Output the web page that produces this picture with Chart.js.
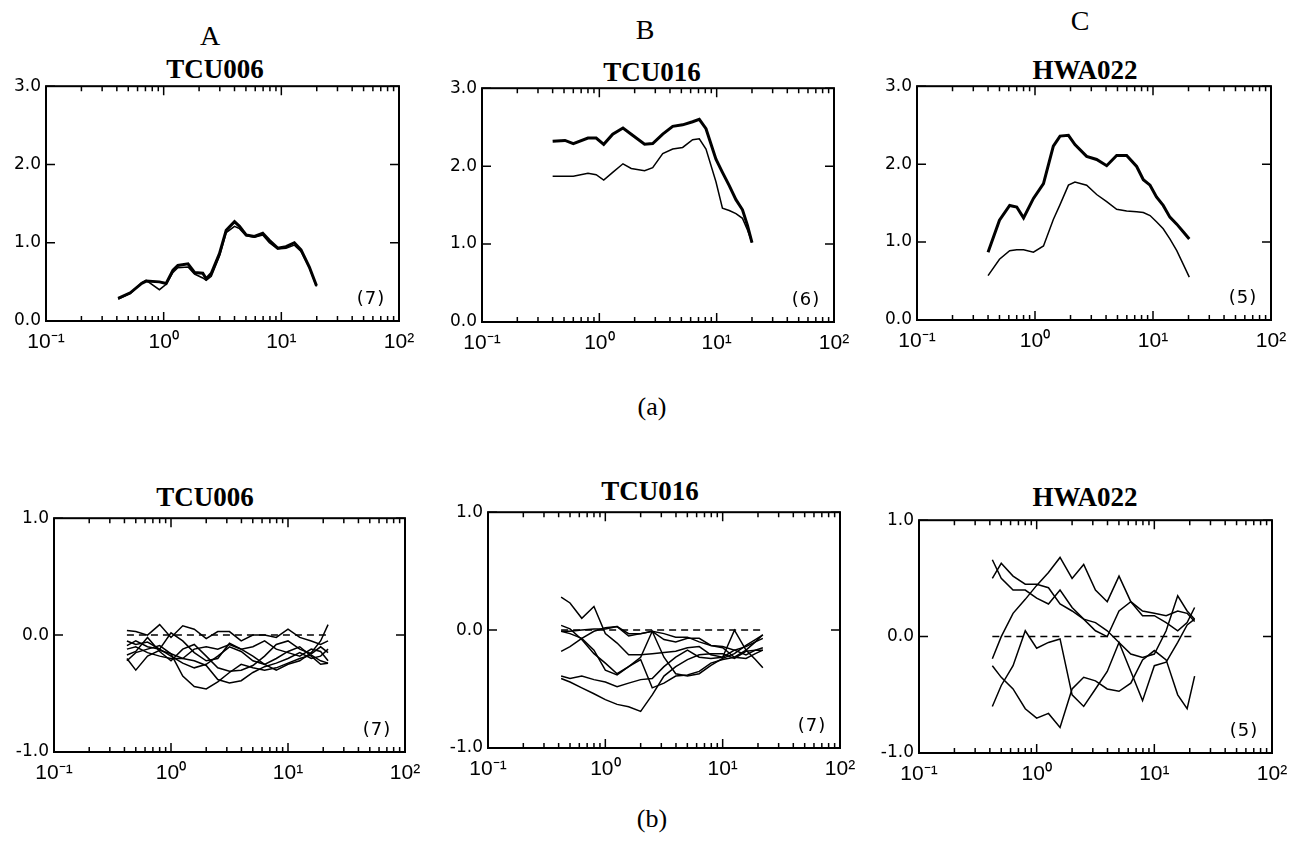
<!DOCTYPE html>
<html>
<head>
<meta charset="utf-8">
<script src="https://cdn.jsdelivr.net/npm/chart.js@4.4.1/dist/chart.umd.min.js"></script>
<style>
  body { margin: 0; background: #fff; width: 1301px; height: 843px; position: relative; overflow: hidden; }
  canvas { position: absolute; }
  .txt { position: absolute; transform: translate(-50%, -50%); font-family: "Liberation Serif", "Times New Roman", serif; color: #000; white-space: nowrap; line-height: 1; }
  .letra { font-size: 28px; }
  .estacao { font-size: 27px; font-weight: bold; }
  .parte { font-size: 26px; }
</style>
</head>
<body>
<div class="txt letra" style="left:210px;top:36px">A</div>
<div class="txt letra" style="left:645px;top:30px">B</div>
<div class="txt letra" style="left:1080px;top:21px">C</div>
<div class="txt estacao" style="left:215px;top:69px">TCU006</div>
<div class="txt estacao" style="left:652px;top:72px">TCU016</div>
<div class="txt estacao" style="left:1085px;top:70px">HWA022</div>
<div class="txt parte" style="left:652px;top:407px">(a)</div>
<div class="txt estacao" style="left:205px;top:497px">TCU006</div>
<div class="txt estacao" style="left:650px;top:491px">TCU016</div>
<div class="txt estacao" style="left:1085px;top:497px">HWA022</div>
<div class="txt parte" style="left:652px;top:819px">(b)</div>

<canvas id="supA"></canvas>
<canvas id="supB"></canvas>
<canvas id="supC"></canvas>
<canvas id="infA"></canvas>
<canvas id="infB"></canvas>
<canvas id="infC"></canvas>

<script>
// eixo x (log) e rótulos
const DECADAS = [0.1, 1, 10, 100];
const ROTULOS_X = ["10⁻¹", "10⁰", "10¹", "10²"];
const MULT_MENORES = [2, 3, 4, 5, 6, 7, 8, 9];

const Y_SUP = [0, 1, 2, 3];
const ROTULOS_Y_SUP = ["0.0", "1.0", "2.0", "3.0"];
const Y_INF = [-1, 0, 1];
const ROTULOS_Y_INF = ["-1.0", "0.0", "1.0"];

// (a) linha de cima
const A_X = [0.41, 0.52, 0.65, 0.71, 0.92, 1.05, 1.2, 1.32, 1.61, 1.83, 2.15, 2.3, 2.54, 2.98, 3.4, 4.0, 4.41, 5.02, 5.9, 6.95, 7.91, 9.31, 10.96, 12.9, 14.7, 17.3, 19.9];
const A_GROSSA = [0.29, 0.36, 0.48, 0.51, 0.50, 0.48, 0.65, 0.71, 0.73, 0.62, 0.61, 0.54, 0.61, 0.86, 1.16, 1.27, 1.21, 1.10, 1.08, 1.12, 1.03, 0.93, 0.95, 1.0, 0.91, 0.69, 0.45];
const A_FINA = [0.28, 0.35, 0.49, 0.52, 0.40, 0.47, 0.62, 0.68, 0.69, 0.60, 0.55, 0.52, 0.57, 0.83, 1.13, 1.21, 1.18, 1.09, 1.07, 1.10, 1.00, 0.92, 0.93, 0.97, 0.89, 0.68, 0.44];

const B_X = [0.4, 0.51, 0.6, 0.8, 0.94, 1.09, 1.3, 1.59, 1.87, 2.43, 2.85, 3.47, 4.22, 5.13, 6.24, 7.11, 8.11, 9.86, 11.2, 12.8, 14.6, 16.6, 18.3, 20];
const B_GROSSA = [2.32, 2.33, 2.29, 2.36, 2.36, 2.28, 2.41, 2.49, 2.41, 2.28, 2.29, 2.41, 2.51, 2.53, 2.57, 2.60, 2.48, 2.09, 1.92, 1.75, 1.57, 1.44, 1.24, 1.02];
const B_FINA = [1.87, 1.87, 1.87, 1.91, 1.89, 1.82, 1.92, 2.03, 1.97, 1.94, 1.98, 2.16, 2.22, 2.24, 2.34, 2.35, 2.22, 1.80, 1.46, 1.43, 1.39, 1.33, 1.18, 1.02];

const C_X = [0.40, 0.50, 0.61, 0.70, 0.80, 0.97, 1.18, 1.43, 1.63, 1.92, 2.18, 2.74, 3.33, 4.05, 4.92, 5.98, 7.27, 8.28, 9.44, 10.7, 12.2, 13.9, 15.9, 18.1, 20.3];
const C_GROSSA = [0.87, 1.28, 1.47, 1.45, 1.31, 1.56, 1.75, 2.23, 2.36, 2.37, 2.25, 2.10, 2.06, 1.98, 2.11, 2.11, 1.97, 1.80, 1.73, 1.58, 1.47, 1.32, 1.23, 1.13, 1.04];
const C_FINA = [0.57, 0.78, 0.89, 0.90, 0.90, 0.87, 0.95, 1.29, 1.48, 1.73, 1.77, 1.73, 1.61, 1.52, 1.42, 1.40, 1.39, 1.38, 1.34, 1.26, 1.17, 1.04, 0.89, 0.71, 0.55];

// (b) linha de baixo
const INF_X = [0.42, 0.5, 0.63, 0.8, 1.0, 1.26, 1.58, 2.0, 2.51, 3.16, 3.98, 5.01, 6.31, 7.94, 10, 12.6, 15.8, 19, 22];
const ZERO = [0, 0, 0, 0, 0, 0, 0, 0, 0, 0, 0, 0, 0, 0, 0, 0, 0, 0, 0];

const INF_A = [
  [0.04, 0.03, 0.0, 0.09, -0.02, 0.08, 0.05, -0.03, 0.03, 0.03, -0.05, 0.0, 0.0, -0.02, 0.05, -0.02, -0.05, -0.08, -0.05],
  [-0.09, -0.05, -0.1, -0.12, 0.02, -0.05, -0.15, -0.22, -0.2, -0.07, -0.12, -0.18, -0.25, -0.3, -0.25, -0.22, -0.15, -0.05, 0.09],
  [-0.2, -0.3, -0.18, -0.13, -0.16, -0.2, -0.12, -0.1, -0.12, -0.08, -0.12, -0.1, -0.05, -0.12, -0.15, -0.18, -0.12, -0.14, -0.22],
  [-0.22, -0.15, -0.12, -0.09, -0.16, -0.35, -0.44, -0.46, -0.4, -0.32, -0.25, -0.28, -0.3, -0.28, -0.24, -0.2, -0.17, -0.22, -0.24],
  [-0.12, -0.1, -0.15, -0.18, -0.2, -0.2, -0.22, -0.26, -0.38, -0.41, -0.39, -0.32, -0.27, -0.24, -0.2, -0.15, -0.2, -0.18, -0.12],
  [-0.05, -0.08, -0.06, -0.12, -0.18, -0.24, -0.28, -0.25, -0.18, -0.1, -0.14, -0.22, -0.25, -0.2, -0.14, -0.1, -0.18, -0.25, -0.24],
  [-0.17, -0.14, -0.02, -0.14, -0.22, -0.12, -0.08, -0.18, -0.28, -0.31, -0.3, -0.26, -0.18, -0.08, -0.05, -0.12, -0.16, -0.1, -0.15],
];

const INF_B = [
  [0.28, 0.23, 0.10, 0.20, -0.03, -0.11, -0.21, -0.21, -0.20, -0.19, -0.18, -0.15, -0.14, -0.21, -0.23, 0.0, -0.17, -0.25, -0.32],
  [0.04, 0.01, -0.08, -0.20, -0.28, -0.37, -0.31, -0.25, -0.49, -0.45, -0.39, -0.38, -0.35, -0.28, -0.25, -0.23, -0.17, -0.10, -0.04],
  [-0.18, -0.14, -0.07, -0.01, 0.02, 0.03, -0.03, -0.03, -0.01, -0.03, -0.06, -0.06, -0.10, -0.13, -0.15, -0.23, -0.24, -0.20, -0.17],
  [-0.39, -0.41, -0.39, -0.42, -0.44, -0.48, -0.45, -0.42, -0.41, -0.31, -0.23, -0.17, -0.23, -0.24, -0.23, -0.17, -0.21, -0.17, -0.15],
  [-0.41, -0.44, -0.49, -0.54, -0.59, -0.63, -0.65, -0.69, -0.55, -0.39, -0.31, -0.25, -0.21, -0.20, -0.20, -0.24, -0.18, -0.17, -0.17],
  [-0.01, -0.01, 0.0, 0.01, 0.01, 0.03, -0.05, -0.03, -0.01, -0.23, -0.37, -0.39, -0.37, -0.30, -0.24, -0.20, -0.13, -0.08, -0.04],
  [-0.01, -0.03, -0.07, -0.17, -0.34, -0.38, -0.31, -0.23, -0.01, -0.08, -0.10, -0.07, -0.07, -0.13, -0.14, -0.17, -0.14, -0.10, -0.07],
];

const INF_C = [
  [0.66, 0.50, 0.40, 0.40, 0.33, 0.28, 0.40, 0.25, 0.15, 0.12, 0.05, -0.05, -0.15, -0.18, -0.15, 0.05, 0.35, 0.22, 0.15],
  [0.50, 0.63, 0.52, 0.45, 0.45, 0.42, 0.28, 0.22, 0.15, 0.05, 0.0, 0.22, 0.30, 0.18, 0.18, 0.12, 0.05, 0.12, 0.25],
  [-0.19, 0.0, 0.2, 0.32, 0.44, 0.55, 0.68, 0.50, 0.62, 0.40, 0.30, 0.52, 0.30, 0.22, 0.20, 0.18, 0.22, 0.20, 0.13],
  [-0.25, -0.35, -0.45, -0.62, -0.70, -0.66, -0.78, -0.45, -0.35, -0.38, -0.45, -0.47, -0.40, -0.20, -0.12, -0.20, -0.50, -0.62, -0.34],
  [-0.60, -0.42, -0.25, 0.05, -0.10, -0.05, -0.02, -0.50, -0.60, -0.45, -0.30, -0.05, -0.30, -0.55, -0.25, -0.22, -0.05, 0.10, 0.15],
];

// posição das áreas de plotagem na página
const AREAS = {
  supA: { x1: 46, x2: 399, y1: 86, y2: 321 },
  supB: { x1: 482, x2: 834, y1: 88, y2: 322 },
  supC: { x1: 917, x2: 1271, y1: 86, y2: 320 },
  infA: { x1: 54, x2: 405, y1: 518, y2: 752 },
  infB: { x1: 488, x2: 840, y1: 512, y2: 748 },
  infC: { x1: 919, x2: 1272, y1: 520, y2: 753 },
};

const TICKS_X = [];
DECADAS.forEach((d, i) => {
  TICKS_X.push(d);
  if (i < DECADAS.length - 1) MULT_MENORES.forEach((m) => TICKS_X.push(d * m));
});

const moldura = {
  id: "moldura",
  afterDatasetsDraw(chart, args, opts) {
    const { ctx, chartArea: a, scales } = chart;
    ctx.save();
    ctx.strokeStyle = "#000";
    ctx.lineWidth = 2;
    ctx.strokeRect(a.left, a.top, a.right - a.left, a.bottom - a.top);
    ctx.lineWidth = 1.5;
    ctx.beginPath();
    scales.x.ticks.forEach((t) => {
      const px = scales.x.getPixelForValue(t.value);
      const tam = DECADAS.includes(t.value) ? 9 : 5;
      ctx.moveTo(px, a.bottom);
      ctx.lineTo(px, a.bottom - tam);
      ctx.moveTo(px, a.top);
      ctx.lineTo(px, a.top + tam);
    });
    scales.y.ticks.forEach((t) => {
      const py = scales.y.getPixelForValue(t.value);
      ctx.moveTo(a.left, py);
      ctx.lineTo(a.left + 9, py);
      ctx.moveTo(a.right, py);
      ctx.lineTo(a.right - 9, py);
    });
    ctx.stroke();
    ctx.fillStyle = "#000";
    ctx.font = "18px 'DejaVu Sans'";
    ctx.letterSpacing = "1px";
    ctx.textAlign = "center";
    ctx.textBaseline = "middle";
    ctx.fillText(opts.nota, a.right - 28, a.bottom - 22);
    ctx.restore();
  },
};

function serie(xs, ys, largura, tracejado) {
  return {
    data: xs.map((x, i) => ({ x: x, y: ys[i] })),
    borderColor: "#000",
    borderWidth: largura,
    borderDash: tracejado ? [7, 5] : [],
    pointRadius: 0,
    tension: 0,
    fill: false,
  };
}

function criarPainel(id, series, yTicks, yRotulos, nota) {
  const area = AREAS[id];
  const esq = 60, dir = 30, topo = 15, base = 42;
  const canvas = document.getElementById(id);
  canvas.width = area.x2 - area.x1 + esq + dir;
  canvas.height = area.y2 - area.y1 + topo + base;
  canvas.style.left = area.x1 - esq + "px";
  canvas.style.top = area.y1 - topo + "px";

  return new Chart(canvas, {
    type: "line",
    data: { datasets: series },
    options: {
      responsive: false,
      animation: false,
      devicePixelRatio: 1,
      layout: { padding: { left: 0, right: dir, top: topo, bottom: 0 } },
      plugins: {
        legend: { display: false },
        tooltip: { enabled: false },
        moldura: { nota: nota },
      },
      scales: {
        x: {
          type: "logarithmic",
          min: 0.1,
          max: 100,
          grid: { display: false, drawTicks: false },
          border: { display: false },
          afterBuildTicks: (s) => {
            s.ticks = TICKS_X.map((v) => ({ value: v }));
          },
          afterFit: (s) => {
            s.height = base;
          },
          ticks: {
            autoSkip: false,
            maxRotation: 0,
            padding: 9,
            color: "#000",
            font: { family: "'Liberation Sans Narrow', 'Liberation Sans', Arial, sans-serif", size: 21 },
            callback: (v) => {
              const i = DECADAS.indexOf(v);
              return i >= 0 ? ROTULOS_X[i] : "";
            },
          },
        },
        y: {
          type: "linear",
          min: yTicks[0],
          max: yTicks[yTicks.length - 1],
          grid: { display: false, drawTicks: false },
          border: { display: false },
          afterBuildTicks: (s) => {
            s.ticks = yTicks.map((v) => ({ value: v }));
          },
          afterFit: (s) => {
            s.width = esq;
          },
          ticks: {
            padding: 5,
            color: "#000",
            font: { family: "'DejaVu Sans', sans-serif", size: 17 },
            callback: (v) => yRotulos[yTicks.indexOf(v)],
          },
        },
      },
    },
    plugins: [moldura],
  });
}

criarPainel("supA", [serie(A_X, A_FINA, 1.5), serie(A_X, A_GROSSA, 3)], Y_SUP, ROTULOS_Y_SUP, "(7)");
criarPainel("supB", [serie(B_X, B_FINA, 1.5), serie(B_X, B_GROSSA, 3)], Y_SUP, ROTULOS_Y_SUP, "(6)");
criarPainel("supC", [serie(C_X, C_FINA, 1.5), serie(C_X, C_GROSSA, 3)], Y_SUP, ROTULOS_Y_SUP, "(5)");

criarPainel("infA", [serie(INF_X, ZERO, 1.5, true)].concat(INF_A.map((ys) => serie(INF_X, ys, 1.5))), Y_INF, ROTULOS_Y_INF, "(7)");
criarPainel("infB", [serie(INF_X, ZERO, 1.5, true)].concat(INF_B.map((ys) => serie(INF_X, ys, 1.5))), Y_INF, ROTULOS_Y_INF, "(7)");
criarPainel("infC", [serie(INF_X, ZERO, 1.5, true)].concat(INF_C.map((ys) => serie(INF_X, ys, 1.5))), Y_INF, ROTULOS_Y_INF, "(5)");
</script>
</body>
</html>
